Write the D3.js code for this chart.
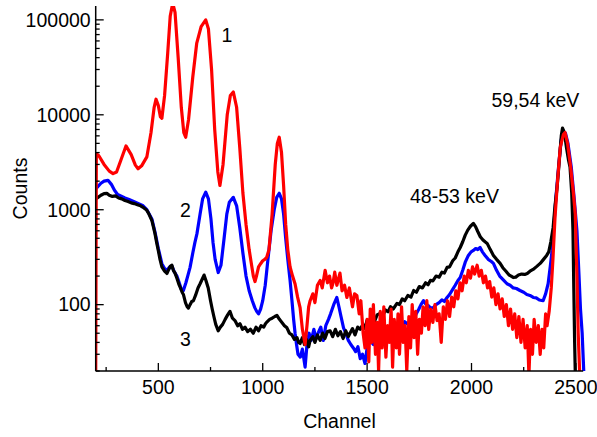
<!DOCTYPE html>
<html><head><meta charset="utf-8">
<script src="https://cdn.jsdelivr.net/npm/d3@7"></script>
<style>body{margin:0;background:#fff}svg{display:block}text{font-family:Arial,"Liberation Sans",sans-serif;fill:#000}</style>
</head><body><svg id="c" width="597" height="437"></svg>
<script>
const xTicks=[500,1000,1500,2000,2500];
const xMinor=[250,750,1250,1750,2250];
const yTicks=[100,1000,10000,100000];
const labels=[{t:"1",x:227,y:42,a:"middle"},{t:"2",x:185.5,y:217,a:"middle"},{t:"3",x:185.5,y:346,a:"middle"},{t:"59,54 keV",x:491.5,y:107,a:"start"},{t:"48-53 keV",x:410,y:203,a:"start"}];

const spec1=[[200,15],[203,3900],[215,3700],[240,3000],[265,2550],[283,2400],[300,2500],[320,3300],[345,4700],[370,3800],[390,2950],[403,2700],[420,2900],[445,3600],[465,6500],[480,12000],[489,14600],[500,12500],[510,9500],[517,9200],[530,16000],[545,45000],[557,110000],[569,150000],[580,120000],[595,40000],[610,12000],[622,6500],[631,5800],[645,9000],[665,25000],[684,57000],[705,85000],[727,100000],[740,80000],[755,30000],[770,7000],[785,2500],[795,1800],[810,3000],[830,10000],[845,16000],[859,17400],[875,12000],[890,4500],[905,1500],[920,700],[935,380],[948,250],[955,200],[963,175],[970,200],[980,250],[990,270],[1000,290],[1010,300],[1019,315],[1030,380],[1045,900],[1060,3000],[1070,5000],[1079,5800],[1090,4000],[1100,1800],[1110,700],[1120,380],[1131,250],[1143,200],[1155,165],[1167,120],[1179,93],[1190,55],[1203,38],[1212,60],[1220,95],[1227,110],[1240,130],[1250,105],[1262,160],[1275,180],[1285,150],[1299,230],[1310,170],[1320,200],[1330,150],[1337,170],[1345,220],[1355,160],[1370,215],[1380,140],[1392,160],[1403,119],[1415,150],[1430,95],[1440,130],[1451,125],[1462,80],[1470,110],[1481,50],[1490,35],[1500,70],[1508,25],[1515,90],[1522,40],[1530,100],[1540,30],[1548,65],[1555,20],[1563,85],[1572,35],[1580,95],[1590,28],[1598,60],[1606,40],[1615,90],[1622,22],[1630,70],[1640,35],[1648,80],[1655,30],[1665,95],[1673,40],[1682,60],[1690,20],[1700,75],[1708,35],[1716,100],[1725,45],[1733,85],[1742,30],[1750,70],[1760,50],[1768,95],[1778,60],[1786,110],[1795,55],[1805,90],[1815,65],[1825,100],[1835,68],[1845,80],[1855,40],[1865,95],[1875,70],[1885,110],[1895,75],[1905,120],[1915,95],[1925,140],[1935,115],[1945,170],[1955,140],[1965,200],[1975,170],[1985,230],[1995,190],[2005,250],[2015,210],[2027,260],[2037,200],[2047,230],[2057,170],[2067,200],[2077,150],[2087,175],[2097,120],[2107,150],[2117,100],[2127,130],[2137,90],[2147,115],[2157,75],[2167,100],[2177,60],[2187,90],[2197,55],[2207,80],[2217,45],[2227,75],[2237,40],[2247,70],[2257,35],[2267,60],[2275,18],[2283,55],[2292,30],[2300,70],[2310,40],[2320,60],[2329,30],[2338,55],[2346,35],[2355,80],[2362,60],[2372,85],[2382,150],[2390,300],[2400,830],[2412,2000],[2425,4500],[2440,6200],[2448,6500],[2460,5000],[2475,2800],[2488,1500],[2497,900],[2505,200],[2511,50],[2520,15]];

const spec2=[[200,1650],[210,1750],[225,1900],[240,2000],[259,2040],[275,1850],[290,1600],[305,1450],[320,1400],[340,1330],[360,1280],[379,1230],[400,1170],[427,1100],[445,1000],[460,870],[469,800],[484,580],[500,390],[517,270],[530,240],[541,230],[555,250],[565,255],[575,225],[589,200],[600,170],[610,145],[620,141],[632,170],[642,205],[652,247],[665,350],[675,450],[685,560],[700,900],[712,1300],[727,1530],[740,1300],[752,800],[762,450],[772,300],[787,218],[800,260],[815,500],[828,900],[840,1200],[859,1350],[875,1100],[890,650],[905,350],[920,200],[935,140],[950,110],[962,93],[971,85],[980,80],[990,90],[1000,110],[1012,160],[1025,300],[1040,600],[1055,1000],[1067,1350],[1079,1490],[1090,1300],[1100,900],[1110,500],[1120,300],[1131,180],[1140,110],[1148,70],[1155,50],[1162,38],[1169,30],[1180,28],[1190,34],[1203,22],[1212,38],[1222,50],[1232,42],[1245,55],[1255,44],[1265,50],[1278,58],[1290,42],[1302,60],[1315,70],[1325,80],[1340,100],[1355,119],[1365,95],[1375,75],[1387,57],[1398,50],[1410,42],[1422,38],[1434,35],[1445,32],[1456,36],[1467,27],[1478,30],[1490,24],[1500,35],[1515,42],[1530,38],[1545,48],[1560,45],[1575,52],[1590,48],[1605,55],[1620,52],[1633,58],[1643,57],[1655,62],[1668,58],[1680,66],[1695,62],[1710,70],[1723,68],[1735,80],[1748,90],[1758,100],[1770,110],[1780,102],[1792,98],[1805,92],[1818,93],[1830,100],[1845,105],[1858,112],[1870,108],[1883,119],[1895,128],[1910,145],[1922,160],[1935,180],[1946,193],[1958,230],[1970,280],[1985,330],[1998,360],[2009,372],[2020,390],[2030,380],[2041,401],[2052,360],[2065,330],[2080,300],[2095,285],[2105,272],[2120,230],[2135,200],[2150,185],[2170,166],[2185,160],[2200,150],[2215,148],[2232,141],[2250,135],[2265,128],[2280,125],[2296,119],[2310,118],[2325,112],[2343,110],[2355,130],[2367,166],[2378,260],[2386,372],[2395,700],[2405,1400],[2418,3000],[2430,5500],[2440,6600],[2450,6400],[2462,5000],[2478,2800],[2492,1300],[2505,600],[2515,200],[2522,90],[2530,50],[2540,15]];

const spec3=[[200,1300],[211,1350],[225,1420],[240,1480],[253,1490],[265,1420],[280,1380],[295,1400],[310,1330],[325,1300],[340,1250],[355,1220],[370,1180],[385,1160],[400,1130],[415,1100],[427,1060],[437,1020],[445,985],[455,900],[469,770],[477,650],[484,560],[492,450],[500,370],[508,300],[517,250],[530,225],[541,213],[550,235],[558,255],[565,260],[572,230],[580,215],[589,190],[598,165],[606,150],[614,135],[620,128],[630,105],[638,95],[644,92],[652,100],[660,108],[668,110],[678,125],[690,150],[700,166],[710,185],[719,205],[728,180],[739,150],[750,110],[758,90],[766,75],[775,62],[787,53],[797,58],[808,62],[820,70],[832,78],[843,85],[855,72],[867,68],[880,60],[891,63],[903,55],[915,58],[928,52],[941,55],[955,50],[968,58],[980,53],[992,60],[1005,58],[1013,63],[1021,66],[1033,70],[1045,72],[1058,75],[1068,77],[1080,70],[1092,65],[1104,60],[1116,57],[1128,50],[1140,48],[1152,43],[1164,45],[1172,40],[1179,39],[1190,45],[1200,38],[1210,43],[1220,36],[1227,42],[1240,46],[1250,40],[1262,48],[1275,42],[1287,50],[1298,44],[1310,52],[1323,53],[1335,46],[1348,55],[1360,47],[1372,52],[1385,44],[1398,53],[1410,46],[1418,50],[1430,56],[1442,48],[1455,58],[1467,55],[1480,62],[1490,56],[1499,68],[1510,62],[1522,72],[1535,66],[1548,78],[1562,81],[1575,76],[1588,88],[1600,84],[1612,95],[1625,90],[1643,103],[1655,100],[1668,115],[1680,110],[1695,125],[1710,120],[1723,141],[1736,135],[1750,155],[1765,150],[1780,170],[1792,162],[1803,180],[1815,178],[1830,200],[1845,195],[1858,220],[1870,215],[1883,247],[1895,250],[1910,290],[1922,310],[1935,360],[1946,400],[1958,460],[1970,540],[1982,610],[1995,670],[2009,718],[2020,660],[2030,590],[2042,520],[2055,480],[2065,460],[2075,442],[2090,380],[2105,330],[2120,300],[2137,272],[2150,245],[2165,225],[2180,205],[2190,200],[2200,193],[2212,195],[2225,205],[2240,210],[2255,208],[2267,213],[2280,225],[2295,235],[2310,250],[2329,272],[2345,300],[2360,330],[2370,360],[2380,460],[2391,650],[2400,1100],[2410,1720],[2420,3200],[2430,6000],[2436,7240],[2445,6500],[2455,4500],[2465,3300],[2472,2800],[2480,1500],[2486,600],[2490,150],[2494,40],[2498,15]];

const series=[{d:spec2,c:"#0000ff"},{d:spec3,c:"#000000"},{d:spec1,c:"#ff0000"}];

const svg=d3.select("#c");
const L=95.7,R=583.2,T=6,B=371;
const x=d3.scaleLinear().domain([200,2535]).range([L,R]);
const y=d3.scaleLog().domain([20,140000]).range([B,T]);

svg.append("defs").append("clipPath").attr("id","clip").append("rect").attr("x",L).attr("y",T).attr("width",R-L+4).attr("height",B-T);
const line=d3.line().x(d=>x(d[0])).y(d=>y(Math.max(d[1],1)));
const g=svg.append("g").attr("clip-path","url(#clip)");
series.forEach(s=>g.append("path").datum(s.d).attr("d",line).attr("fill","none").attr("stroke",s.c).attr("stroke-width",3.2).attr("stroke-linejoin","round"));

// axes
const fs="19.5px";
const xAx=svg.append("g").attr("transform",`translate(0,${B})`);
xAx.append("line").attr("x1",L).attr("x2",R).attr("stroke","#000").attr("stroke-width",1.5);
xAx.selectAll(".mj").data(xTicks).join("line").attr("x1",d=>x(d)).attr("x2",d=>x(d)).attr("y1",0).attr("y2",-8).attr("stroke","#000").attr("stroke-width",1.3);
xAx.selectAll(".mn").data(xMinor).join("line").attr("x1",d=>x(d)).attr("x2",d=>x(d)).attr("y1",0).attr("y2",-4).attr("stroke","#000").attr("stroke-width",1.3);
xAx.selectAll("text").data(xTicks).join("text").attr("x",d=>x(d)).attr("y",23).attr("text-anchor","middle").style("font-size",fs).text(d=>d);

const yAx=svg.append("g").attr("transform",`translate(${L},0)`);
yAx.append("line").attr("y1",T).attr("y2",B).attr("stroke","#000").attr("stroke-width",1.5);
const minors=[];
[10,100,1000,10000,100000].forEach(b=>{for(let k=2;k<=9;k++){const v=b*k;if(v>=20&&v<=140000)minors.push(v);}});
yAx.selectAll(".mj").data(yTicks).join("line").attr("x1",0).attr("x2",8).attr("y1",d=>y(d)).attr("y2",d=>y(d)).attr("stroke","#000").attr("stroke-width",1.3);
yAx.selectAll(".mn").data(minors).join("line").attr("x1",0).attr("x2",4).attr("y1",d=>y(d)).attr("y2",d=>y(d)).attr("stroke","#000").attr("stroke-width",1.3);
yAx.selectAll("text").data(yTicks).join("text").attr("x",-5).attr("y",d=>y(d)).attr("dy","0.35em").attr("text-anchor","end").style("font-size",fs).text(d=>d);

svg.append("text").attr("x",(L+R)/2).attr("y",428).attr("text-anchor","middle").style("font-size",fs).text("Channel");
svg.append("text").attr("transform",`translate(27,${(T+B)/2}) rotate(-90)`).attr("text-anchor","middle").style("font-size",fs).text("Counts");
svg.selectAll(".lab").data(labels).join("text").attr("x",d=>d.x).attr("y",d=>d.y).attr("text-anchor",d=>d.a).style("font-size",fs).text(d=>d.t);
</script></body></html>
